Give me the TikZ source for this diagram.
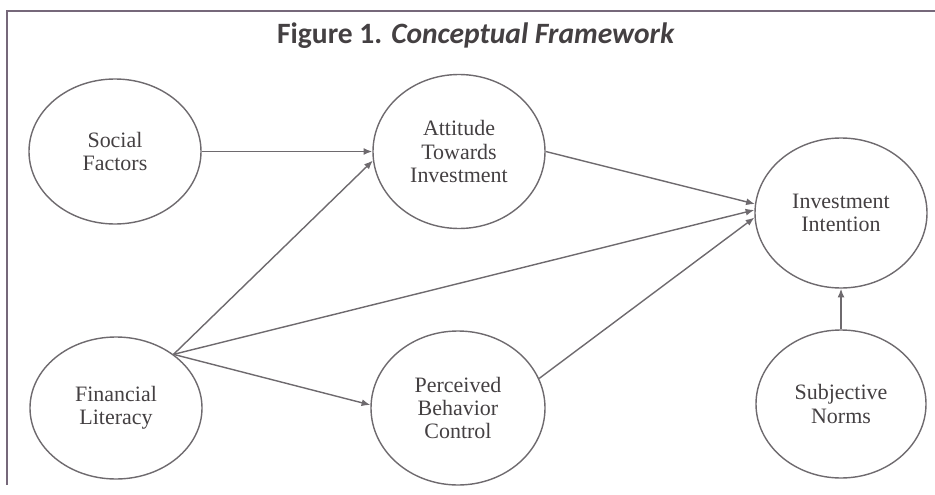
\documentclass[tikz,border=0pt]{standalone}
\usepackage{fontspec}
\setmainfont{Liberation Serif}
\newfontfamily\titlefont{Carlito}
\usetikzlibrary{shapes.geometric,arrows.meta}
\definecolor{linegray}{HTML}{6E6A6E}
\definecolor{textgray}{HTML}{444042}
\definecolor{framegray}{HTML}{76687A}
\tikzset{
	construct/.style={ellipse, draw=linegray, line width=0.8pt, inner sep=0pt, minimum width=3.44cm, minimum height=2.9cm, align=center, text=textgray, font=\fontsize{12.5}{13.2}\selectfont},
	path/.style={draw=linegray, line width=0.8pt, -{Latex[length=5pt,width=4pt]}}
}
\begin{document}
\begin{tikzpicture}
	\useasboundingbox (0, 0) rectangle (18.7, -9.9);
	\draw[framegray, line width=1.2pt] (0.14, -9.7) -- (0.14, -0.22) -- (18.7, -0.22);
	\node[text=textgray, font=\titlefont\fontsize{16.8}{19}\selectfont\bfseries] (title) at (9.52, -0.72) {Figure 1. \textit{Conceptual Framework}};
	\node[construct] (SF) at (2.30, -3.03) {Social\\Factors};
	\node[construct, minimum height=3.08cm] (ATI) at (9.18, -3.03) {Attitude\\Towards\\Investment};
	\node[construct, minimum height=3.0cm] (II) at (16.82, -4.26) {Investment\\Intention};
	\node[construct, minimum height=2.84cm] (FL) at (2.32, -8.16) {Financial\\Literacy};
	\node[construct, minimum width=3.48cm, minimum height=3.08cm] (PBC) at (9.16, -8.16) {Perceived\\Behavior\\Control};
	\node[construct, minimum width=3.4cm, minimum height=2.96cm] (SN) at (16.82, -8.08) {Subjective\\Norms};
	\draw[path] (SF.east) -- (ATI.west);
	\draw[path] (FL.43) -- (ATI.186);
	\draw[path] (FL.43) -- (PBC.178);
	\draw[path] (FL.43) -- (II.178);
	\draw[path] (ATI.east) -- (II.174);
	\draw[path] (PBC.20) -- (II.183);
	\draw[path] (SN.north) -- (II.south);
\end{tikzpicture}
\end{document}
